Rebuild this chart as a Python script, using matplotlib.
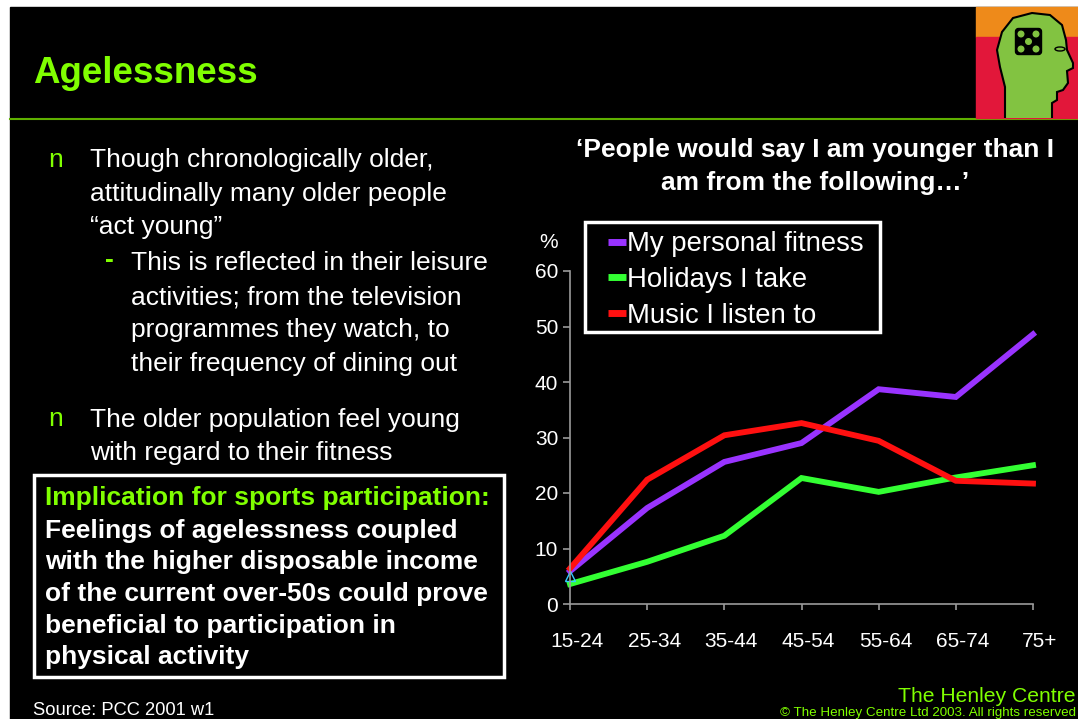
import matplotlib
matplotlib.use('Agg')
import matplotlib.pyplot as plt
import matplotlib.patches as mpatches
import matplotlib.transforms as mtrans
from matplotlib.lines import Line2D

plt.rcParams['font.family'] = ['Liberation Sans', 'DejaVu Sans']

W, H = 1078, 719
lime = '#80ff00'

# data
ages = ['15-24', '25-34', '35-44', '45-54', '55-64', '65-74', '75+']
fitness = [5.9, 17.3, 25.6, 29.0, 38.7, 37.3, 48.6]
holidays = [3.6, 7.6, 12.3, 22.7, 20.2, 22.8, 25.0]
music = [6.4, 22.4, 30.4, 32.6, 29.4, 22.2, 21.7]
series_names = ['My personal fitness', 'Holidays I take', 'Music I listen to']
series_colors = ['#9933ff', '#33ff33', '#ff1010']
stray_marker = [5.0]   # little cyan triangle at 15-24
yticks = [0, 10, 20, 30, 40, 50, 60]

bullets = [
    ('n', 'Though chronologically older,\nattitudinally many older people\n\u201cact young\u201d'),
    ('-', 'This is reflected in their leisure\nactivities; from the television\nprogrammes they watch, to\ntheir frequency of dining out'),
    ('n', 'The older population feel young\nwith regard to their fitness'),
]
box_head = 'Implication for sports participation:'
box_body = ['Feelings of agelessness coupled', 'with the higher disposable income',
            'of the current over-50s could prove', 'beneficial to participation in',
            'physical activity']

fig = plt.figure(figsize=(W / 100, H / 100), dpi=100, facecolor='white')

# slide background in pixel coords
bg = fig.add_axes([0, 0, 1, 1])
bg.set_xlim(0, W)
bg.set_ylim(H, 0)
bg.axis('off')
bg.add_patch(mpatches.Rectangle((10, 7), W - 10, H - 7, color='black', zorder=0))
bg.plot([10, W], [118.5, 118.5], color='#5fb000', lw=1.5, zorder=1)

# logo
bg.add_patch(mpatches.Rectangle((976, 7), W - 976, 30, color='#ee8a1a', zorder=2))
bg.add_patch(mpatches.Rectangle((976, 37), W - 976, 81, color='#e2173a', zorder=2))
head = [(1005, 118), (1005, 87), (1000, 67), (997, 50), (1002, 32), (1013, 18), (1032, 13),
        (1050, 15), (1062, 25), (1066, 40), (1067, 50), (1073, 63), (1073, 68), (1067, 71),
        (1068, 83), (1063, 90), (1057, 92), (1057, 100), (1052, 103), (1052, 118)]
bg.add_patch(mpatches.Polygon(head, closed=False, fc='#82c341', ec='black', lw=1.5, zorder=3))
bg.add_patch(mpatches.FancyBboxPatch((1016, 29), 25, 25, boxstyle='round,pad=0.5,rounding_size=3',
                                     fc='black', ec='black', zorder=4))
for dx, dy in [(1021, 34), (1036, 34), (1028.5, 41.5), (1021, 49), (1036, 49)]:
    bg.add_patch(mpatches.Circle((dx, dy), 2.8, color='#82c341', zorder=5))
bg.add_patch(mpatches.Ellipse((1060, 49), 10, 4, fc='none', ec='black', lw=1, zorder=5))

# title
bg.text(33, 83, 'Agelessness', color=lime, fontsize=26.5, fontweight='bold', va='baseline')

# bullet text
line_h = 33.5
y = 167
for mark, txt in bullets:
    lines = txt.split('\n')
    if mark == 'n':
        bg.text(48, y, 'n', color=lime, fontsize=19, va='baseline')
        x0 = 90
    else:
        bg.text(105, y - 4, '-', color=lime, fontsize=19, fontweight='bold', va='baseline')
        x0 = 131
    for i, ln in enumerate(lines):
        bg.text(x0, y + i * line_h, ln, color='white', fontsize=19, va='baseline')
    y += len(lines) * line_h + (22 if mark == '-' else 3)

# implication box
bg.add_patch(mpatches.Rectangle((34, 475), 470, 202, fc='black', ec='white', lw=2.5, zorder=2))
bg.text(45, 505, box_head, color=lime, fontsize=19, fontweight='bold', va='baseline', zorder=3)
for i, ln in enumerate(box_body):
    bg.text(45, 538 + i * 31.5, ln, color='white', fontsize=19, fontweight='bold',
            va='baseline', zorder=3)

bg.text(33, 715, 'Source: PCC 2001 w1', color='white', fontsize=13.2, va='baseline')
bg.text(1076, 702, 'The Henley Centre', color=lime, fontsize=15.2, ha='right', va='baseline')
bg.text(1076, 716, '\u00a9 The Henley Centre Ltd 2003. All rights reserved', color=lime,
        fontsize=9.6, ha='right', va='baseline')

# chart title
bg.text(815, 157, '\u2018People would say I am younger than I', color='white', fontsize=19,
        fontweight='bold', ha='center', va='baseline')
bg.text(815, 190, 'am from the following\u2026\u2019', color='white', fontsize=19,
        fontweight='bold', ha='center', va='baseline')

# legend frame
bg.add_patch(mpatches.Rectangle((585, 222), 295, 110, fc='black', ec='white', lw=2.5, zorder=2))

# chart
ax = fig.add_axes([570 / W, (H - 604) / H, 463 / W, 333 / H])
ax.set_facecolor('none')
x = list(range(len(ages)))
for vals, name, col in zip([fitness, holidays, music], series_names, series_colors):
    ax.plot(x, vals, color=col, lw=4.2, label=name, solid_joinstyle='miter', clip_on=False)
ax.plot([0], stray_marker, marker='^', ms=7, mfc='none', mec='#33ccff', mew=1, ls='none',
        clip_on=False)

ax.set_xlim(0, len(ages) - 1)
ax.set_ylim(0, 60)
ax.set_yticks(yticks)
ax.set_xticks(x)
ax.set_xticklabels(ages)
for s in ['top', 'right']:
    ax.spines[s].set_visible(False)
for s in ['left', 'bottom']:
    ax.spines[s].set_color('#9a9a9a')
    ax.spines[s].set_linewidth(1.2)
ax.tick_params(axis='y', colors='#9a9a9a', labelcolor='white', labelsize=15, length=5,
               width=1.2, pad=3.5)
ax.tick_params(axis='x', colors='#9a9a9a', labelcolor='white', labelsize=15, length=4.5,
               width=1.2, pad=16)
shift = mtrans.ScaledTranslation(7 / 100, 0, fig.dpi_scale_trans)
for lab in ax.get_xticklabels():
    lab.set_transform(lab.get_transform() + shift)

ax.text(-0.047, 1.087, '%', transform=ax.transAxes, color='white', fontsize=15,
        ha='center', va='center')

# legend
handles = [Line2D([], [], color=c, lw=5, solid_capstyle='butt') for c in series_colors]
leg = ax.legend(handles, series_names, loc='upper left', bbox_to_anchor=(0.082, 1.119),
                borderaxespad=0, frameon=False, fontsize=19.8, handlelength=0.65,
                handletextpad=0.05, labelspacing=0.35, borderpad=0, labelcolor='white')

fig.savefig('out.png', dpi=100, facecolor='white')
